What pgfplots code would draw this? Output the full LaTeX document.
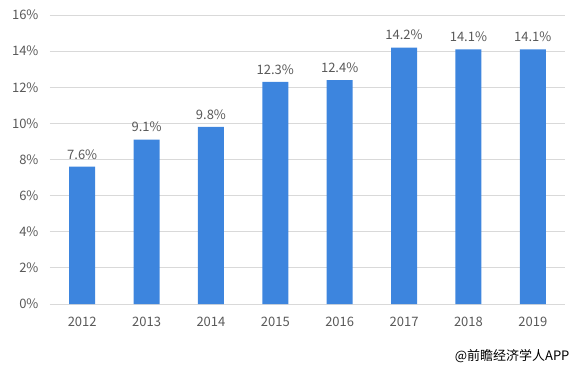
\documentclass[border=0pt]{standalone}
\usepackage{fontspec}
\setmainfont{Noto Sans CJK SC}
\usepackage{pgfplots}
\pgfplotsset{compat=1.18}
\definecolor{barblue}{RGB}{61,133,222}
\definecolor{txtgray}{RGB}{89,89,89}
\definecolor{gridgray}{RGB}{217,217,217}
\begin{document}
\begin{tikzpicture}[x=1pt,y=1pt]
\path[use as bounding box] (-50,-64) rectangle (528,304);
\begin{axis}[
  at={(0,0)}, anchor=south west,
  scale only axis, width=515pt, height=289pt,
  xmin=-0.5, xmax=7.5, ymin=0, ymax=16,
  xtick={0,...,7},
  xticklabels={2012,2013,2014,2015,2016,2017,2018,2019},
  ytick={0,2,...,16},
  yticklabel={\pgfmathprintnumber{\tick}\%},
  /pgf/number format/assume math mode=true,
  tick style={draw=none},
  axis x line*=bottom, axis y line*=left,
  y axis line style={draw=none},
  x axis line style={draw=gridgray, line width=0.8pt, -},
  ymajorgrids, grid style={draw=gridgray, line width=0.8pt},
  ticklabel style={font=\fontsize{13}{15}\selectfont, text=txtgray},
  yticklabel style={anchor=east, xshift=-8pt},
  xticklabel style={yshift=-5pt},
  ybar, bar width=26pt,
  nodes near coords={\pgfmathprintnumber[fixed,precision=1,fixed zerofill]{\pgfplotspointmeta}\%},
  nodes near coords style={font=\fontsize{13}{15}\selectfont, text=txtgray, yshift=4pt},
  clip=false,
]
\addplot[fill=barblue, draw=none] coordinates {
(0,7.6) (1,9.1) (2,9.8) (3,12.3) (4,12.4) (5,14.2) (6,14.1) (7,14.1)
};
\end{axis}
\node[anchor=east, font=\fontsize{13}{15}\selectfont, text=black] at (523,-52) {@前瞻经济学人APP};
\end{tikzpicture}
\end{document}
